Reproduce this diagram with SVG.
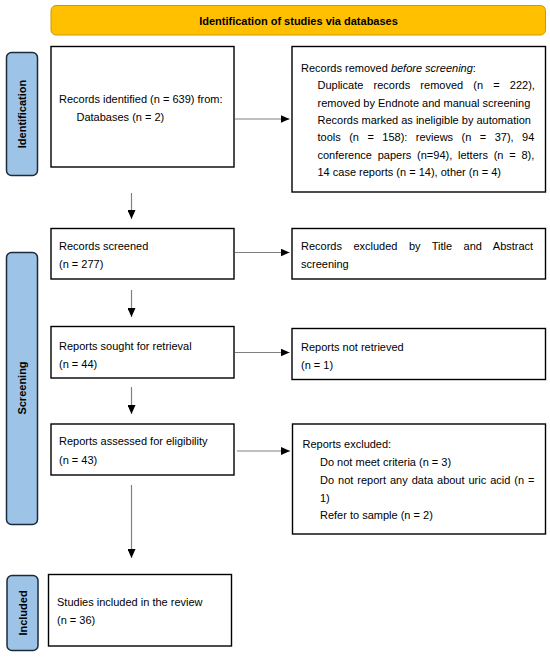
<svg xmlns="http://www.w3.org/2000/svg" width="550" height="657" viewBox="0 0 550 657">
<defs>
<marker id="ah" markerUnits="userSpaceOnUse" markerWidth="9" markerHeight="8" refX="9" refY="4" orient="auto">
<path d="M0,0 L9,4 L0,8 Z" fill="#000"/>
</marker>
<style>
text{font-family:"Liberation Sans",Arial,sans-serif;font-size:11px;fill:#000}
.box{fill:#fff;stroke:#000;stroke-width:1.4}
.side{fill:#9DC3E6;stroke:#1C2B3A;stroke-width:1.5}
.sl{font-weight:bold;text-anchor:middle}
.ban{fill:#FFC000;stroke:#C89B00;stroke-width:1}
.arr{stroke:#808080;stroke-width:1.2;fill:none;marker-end:url(#ah)}
</style>
</defs>
<rect width="550" height="657" fill="#fff"/>
<g id="banner">
<rect class="ban" x="51" y="5.5" width="494.5" height="29.5" rx="5"/>
<text x="298.5" y="24.5" font-weight="bold" text-anchor="middle">Identification of studies via databases</text>
</g>
<g id="label-identification">
<rect class="side" x="6.5" y="52.5" width="31" height="123" rx="5"/>
<text class="sl" transform="translate(26,114) rotate(-90)">Identification</text>
</g>
<g id="label-screening">
<rect class="side" x="6.5" y="252.5" width="31" height="272" rx="5"/>
<text class="sl" transform="translate(26,388) rotate(-90)">Screening</text>
</g>
<g id="label-included">
<rect class="side" x="7" y="575.5" width="31" height="75" rx="5"/>
<text class="sl" transform="translate(26.5,613) rotate(-90)">Included</text>
</g>
<g id="records-identified">
<rect class="box" x="51" y="46.5" width="183" height="120.5"/>
<text x="59" y="103">Records identified (n = 639) from:</text>
<text x="76.5" y="121">Databases (n = 2)</text>
</g>
<g id="records-removed">
<rect class="box" x="292" y="46.5" width="253.5" height="145.5"/>
<text x="301" y="72">Records removed <tspan font-style="italic">before screening</tspan>:</text>
<text x="317.5" y="89" word-spacing="7.1">Duplicate records removed (n = 222),</text>
<text x="317.5" y="106.5">removed by Endnote and manual screening</text>
<text x="317.5" y="124">Records marked as ineligible by automation</text>
<text x="317.5" y="141" word-spacing="5.4">tools (n = 158): reviews (n = 37), 94</text>
<text x="317.5" y="158.5" word-spacing="2.7">conference papers (n=94), letters (n = 8),</text>
<text x="317.5" y="176">14 case reports (n = 14), other (n = 4)</text>
</g>
<g id="records-screened">
<rect class="box" x="51" y="228.5" width="183" height="50.5"/>
<text x="59" y="250">Records screened</text>
<text x="59" y="267.5">(n = 277)</text>
</g>
<g id="records-excluded">
<rect class="box" x="292" y="228.5" width="253.5" height="50.5"/>
<text x="301" y="250" word-spacing="8.4">Records excluded by Title and Abstract</text>
<text x="301" y="267.5">screening</text>
</g>
<g id="reports-sought">
<rect class="box" x="51" y="326.5" width="183" height="51.5"/>
<text x="59" y="350">Reports sought for retrieval</text>
<text x="59" y="368">(n = 44)</text>
</g>
<g id="reports-not-retrieved">
<rect class="box" x="292" y="328.5" width="253.5" height="51"/>
<text x="301" y="350.5">Reports not retrieved</text>
<text x="301" y="369">(n = 1)</text>
</g>
<g id="reports-assessed">
<rect class="box" x="51" y="424" width="183" height="51"/>
<text x="59" y="445">Reports assessed for eligibility</text>
<text x="59" y="464">(n = 43)</text>
</g>
<g id="reports-excluded">
<rect class="box" x="292.5" y="424" width="253" height="110"/>
<text x="302.5" y="448">Reports excluded:</text>
<text x="320" y="466">Do not meet criteria (n = 3)</text>
<text x="320" y="484" word-spacing="0.9">Do not report any data about uric acid (n =</text>
<text x="320" y="501.5">1)</text>
<text x="320" y="519">Refer to sample (n = 2)</text>
</g>
<g id="studies-included">
<rect class="box" x="48.5" y="574.5" width="183" height="71.5"/>
<text x="57" y="606">Studies included in the review</text>
<text x="57" y="624">(n = 36)</text>
</g>
<g id="connectors">
<line class="arr" x1="235" y1="119" x2="289.5" y2="119"/>
<line class="arr" x1="235" y1="252.5" x2="289.5" y2="252.5"/>
<line class="arr" x1="235" y1="352.5" x2="289.5" y2="352.5"/>
<line class="arr" x1="237" y1="451" x2="290" y2="451"/>
<line class="arr" x1="131.5" y1="193" x2="131.5" y2="219"/>
<line class="arr" x1="131.5" y1="290" x2="131.5" y2="317"/>
<line class="arr" x1="131.5" y1="387" x2="131.5" y2="414"/>
<line class="arr" x1="131.5" y1="485" x2="131.5" y2="558"/>
</g>
</svg>
